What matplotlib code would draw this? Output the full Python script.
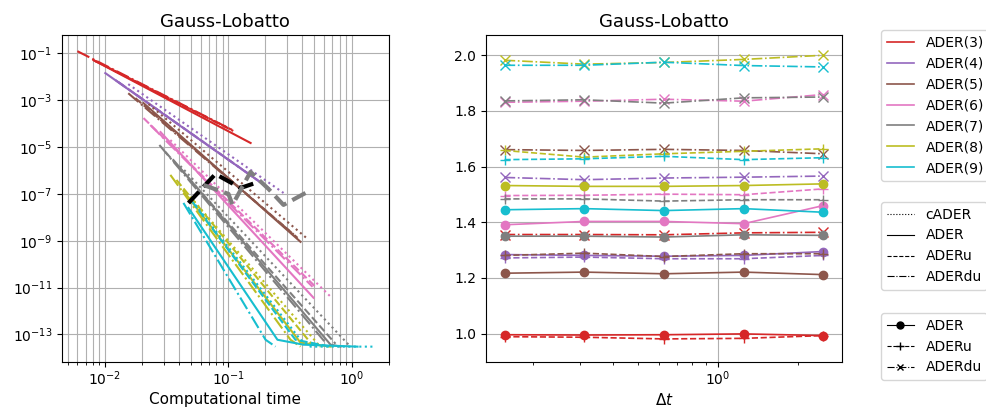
import matplotlib
matplotlib.use("Agg")
import matplotlib.pyplot as plt
from matplotlib.lines import Line2D
from matplotlib.ticker import NullLocator

orders = [3, 4, 5, 6, 7, 8, 9]
colors = ['tab:red', 'tab:purple', 'tab:brown', 'tab:pink',
          'tab:gray', 'tab:olive', 'tab:cyan']

# left panel: error vs computational time (vertices)
t_cader = [[0.0084, 0.104], [0.0155, 0.281], [0.0226, 0.44], [0.034, 0.676],
           [0.041, 0.946], [0.0494, 0.54], [0.0543, 0.386, 0.465, 1.565]]
e_cader = [[0.047, 5.9e-5], [4.9e-3, 1.1e-7], [6.9e-4, 1.2e-9], [2.0e-5, 4.1e-12],
           [1.56e-6, 3.64e-14], [7.45e-8, 3.64e-14], [3.4e-8, 5.9e-14, 3.0e-14, 3.0e-14]]

t_ader = [[0.0081, 0.152], [0.0101, 0.212], [0.0206, 0.386], [0.0283, 0.492],
          [0.036, 0.676, 0.814], [0.0434, 0.386, 0.676], [0.0477, 0.251, 0.408, 1.118]]
e_ader = [[0.052, 1.5e-5], [0.0145, 1.8e-7], [7.6e-4, 9.0e-10], [4.4e-5, 3.67e-12],
          [2.8e-6, 3.64e-14, 3.0e-14], [1.34e-7, 4.43e-14, 3.0e-14],
          [2.53e-8, 5.9e-14, 3.64e-14, 3.0e-14]]

t_aderu = [[0.0081, 0.110], [0.0129, 0.197], [0.0177, 0.365], [0.0206, 0.520],
           [0.031, 0.741], [0.0381, 0.465, 0.561], [0.0514, 0.351, 0.676]]
e_aderu = [[0.052, 4.9e-5], [6.0e-3, 2.4e-7], [1.24e-3, 1.33e-9], [1.74e-4, 9.8e-12],
           [6.2e-6, 4.0e-14], [3.95e-7, 4.43e-14, 3.0e-14], [4.56e-8, 5.9e-14, 3.0e-14]]

t_aderdu = [[0.0060, 0.108], [0.0122, 0.190], [0.0155, 0.351], [0.0234, 0.483],
            [0.0277, 0.615], [0.034, 0.320, 0.386], [0.0434, 0.201, 0.242]]
e_aderdu = [[0.125, 5.4e-5], [7.3e-3, 2.7e-7], [2.0e-3, 1.6e-9], [8.75e-5, 1.08e-11],
            [1.23e-5, 4.43e-14], [6.5e-7, 5.9e-14, 3.0e-14], [4.13e-8, 5.9e-14, 3.0e-14]]

# thick dashed reference marks
t_ref_black = [0.0477, 0.0789, 0.126, 0.176]
e_ref_black = [4.1e-8, 7.1e-7, 1.8e-7, 3.25e-7]
t_ref_gray = [0.063, 0.1006, 0.1084, 0.1517, 0.2124, 0.2808, 0.4237]
e_ref_gray = [2.42e-7, 1.0e-7, 3.4e-8, 8.7e-7, 1.63e-7, 3.4e-8, 1.1e-7]

# right panel: order vs dt
dt = [0.15625, 0.3125, 0.625, 1.25, 2.5]
ord_ader = [[0.996, 0.995, 0.996, 0.999, 0.993],
            [1.284, 1.281, 1.278, 1.281, 1.295],
            [1.217, 1.221, 1.215, 1.221, 1.212],
            [1.391, 1.403, 1.403, 1.395, 1.460],
            [1.350, 1.350, 1.347, 1.355, 1.353],
            [1.532, 1.529, 1.529, 1.532, 1.538],
            [1.445, 1.449, 1.442, 1.449, 1.436]]
ord_aderu = [[0.989, 0.987, 0.981, 0.983, 0.993],
             [1.272, 1.275, 1.269, 1.269, 1.281],
             [1.281, 1.289, 1.277, 1.287, 1.287],
             [1.496, 1.497, 1.501, 1.499, 1.520],
             [1.484, 1.484, 1.476, 1.481, 1.481],
             [1.658, 1.634, 1.646, 1.655, 1.664],
             [1.625, 1.628, 1.637, 1.625, 1.632]]
ord_aderdu = [[1.356, 1.356, 1.355, 1.362, 1.364],
              [1.561, 1.553, 1.559, 1.562, 1.566],
              [1.661, 1.658, 1.662, 1.658, 1.646],
              [1.831, 1.835, 1.842, 1.835, 1.859],
              [1.836, 1.840, 1.828, 1.847, 1.850],
              [1.982, 1.968, 1.974, 1.985, 2.000],
              [1.964, 1.964, 1.975, 1.963, 1.958]]

plt.rcParams['font.size'] = 10
fig = plt.figure(figsize=(9.87, 4.08), dpi=100)
ax1 = fig.add_axes([0.0628, 0.1127, 0.331, 0.801])
ax2 = fig.add_axes([0.4924, 0.1127, 0.3607, 0.801])

lw = 1.5
for i, c in enumerate(colors):
    ax1.loglog(t_cader[i], e_cader[i], ':', color=c, lw=lw)
    ax1.loglog(t_ader[i], e_ader[i], '-', color=c, lw=lw)
    ax1.loglog(t_aderu[i], e_aderu[i], '--', color=c, lw=lw)
    ax1.loglog(t_aderdu[i], e_aderdu[i], '-.', color=c, lw=lw)
ax1.loglog(t_ref_black, e_ref_black, '--', color='k', lw=3)
ax1.loglog(t_ref_gray, e_ref_gray, '--', color='tab:gray', lw=3)

ax1.set_xlim(0.0045, 2.0)
ax1.set_ylim(10 ** -14.18, 10 ** -0.22)
ax1.set_yticks([10.0 ** k for k in range(-1, -14, -2)])
ax1.yaxis.set_minor_locator(NullLocator())
ax1.xaxis.grid(True, which='both')
ax1.yaxis.grid(True, which='major')
ax1.tick_params(axis='x', which='major', pad=1.5)
ax1.set_xlabel('Computational time', fontsize=11, labelpad=3)
ax1.set_title('Gauss-Lobatto', fontsize=13)

for i, c in enumerate(colors):
    ax2.semilogx(dt, ord_ader[i], '-o', color=c, lw=1.2, ms=6)
    ax2.semilogx(dt, ord_aderu[i], '--+', color=c, lw=1.2, ms=7)
    ax2.semilogx(dt, ord_aderdu[i], '-.x', color=c, lw=1.2, ms=7)
ax2.set_ylim(0.898, 2.072)
ax2.set_xlim(0.133, 2.94)
ax2.set_yticks([1.0, 1.2, 1.4, 1.6, 1.8, 2.0])
ax2.grid(True, which='major')
ax2.tick_params(axis='x', which='major', pad=1.5)
ax2.set_xlabel(r'$\Delta t$', fontsize=11, labelpad=3)
ax2.set_title('Gauss-Lobatto', fontsize=13)

h1 = [Line2D([], [], color=c, lw=1.2) for c in colors]
fig.legend(h1, ['ADER(%d)' % o for o in orders], loc='upper left',
           bbox_to_anchor=(0.8926, 0.9265), borderaxespad=0, fontsize=10)
h2 = [Line2D([], [], color='k', ls=s, lw=0.8) for s in [':', '-', '--', '-.']]
fig.legend(h2, ['cADER', 'ADER', 'ADERu', 'ADERdu'], loc='upper left',
           bbox_to_anchor=(0.8926, 0.505), borderaxespad=0, fontsize=10)
h3 = [Line2D([], [], color='k', ls='-', marker='o', lw=0.8, ms=5),
      Line2D([], [], color='k', ls='--', marker='+', lw=0.8, ms=6),
      Line2D([], [], color='k', ls='-.', marker='x', lw=0.8, ms=5)]
fig.legend(h3, ['ADER', 'ADERu', 'ADERdu'], loc='upper left',
           bbox_to_anchor=(0.8926, 0.2328), borderaxespad=0, fontsize=10)

fig.savefig('out.png', dpi=100)
